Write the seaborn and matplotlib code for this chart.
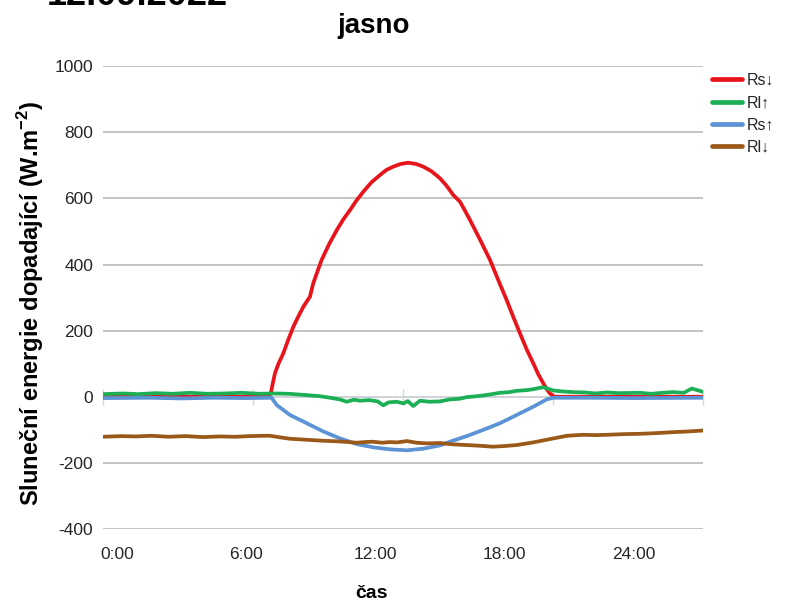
import numpy as np
import pandas as pd
import matplotlib
matplotlib.use("Agg")
import matplotlib.pyplot as plt
from matplotlib.lines import Line2D
import seaborn as sns

# ---------------- data (hours, W.m-2) ----------------
rs_down_t = [-0.64, 2.0, 5.0, 7.0, 7.14, 7.25, 7.34, 7.5, 7.72, 7.95, 8.19, 8.42, 8.65, 8.85, 8.96,
             9.11, 9.3, 9.50, 9.85, 10.2, 10.5, 10.82, 11.12, 11.43, 11.8, 12.21, 12.5, 12.82, 13.15,
             13.52, 13.9, 14.22, 14.6, 14.99, 15.3, 15.61, 15.92, 16.15, 16.38, 16.85, 17.31, 17.7,
             18.08, 18.4, 18.7, 19.0, 19.32, 19.55, 19.78, 19.95, 20.09, 20.3, 23.0, 27.19]
rs_down_v = [0, 0, 0, 0, 10, 45, 72, 100, 131, 172, 212, 243, 272, 292, 303,
             343, 378, 414, 462, 504, 536, 565, 594, 620, 648, 671, 686, 696, 704,
             708, 704, 696, 682, 661, 638, 610, 590, 563, 535, 475, 414, 352,
             293, 240, 192, 145, 101, 68, 41, 22, 10, 0, 0, 0]

rl_up_t = [-0.64, 0.3, 1.0, 1.8, 2.6, 3.4, 4.2, 5.0, 5.8, 6.6, 7.3, 8.0, 8.6, 9.4, 9.9, 10.35,
           10.66, 11.0, 11.28, 11.7, 12.1, 12.36, 12.6, 12.98, 13.3, 13.5, 13.75, 14.06, 14.5,
           14.99, 15.45, 15.9, 16.23, 16.6, 17.0, 17.4, 17.77, 18.2, 18.55, 19.0, 19.32, 19.78,
           20.25, 20.7, 21.17, 21.7, 22.2, 22.72, 23.3, 24.27, 24.8, 25.3, 25.8, 26.3, 26.67, 27.19]
rl_up_v = [8, 10, 8, 11, 9, 12, 9, 10, 12, 9, 10, 9, 6, 2, -3, -8,
           -15, -9, -12, -10, -14, -26, -17, -15, -20, -13, -28, -12, -15,
           -14, -8, -6, -1, 1, 4, 8, 12, 14, 18, 20, 23, 29,
           19, 16, 14, 13, 10, 13, 11, 12, 9, 12, 14, 12, 25, 15]

rs_up_t = [-0.64, 1.5, 3.0, 4.5, 6.0, 7.18, 7.42, 8.03, 8.81, 9.58, 10.35, 11.13, 11.9, 12.67,
           13.45, 14.22, 14.99, 15.45, 16.23, 17.0, 17.77, 18.55, 19.32, 19.94, 20.25, 22.0,
           24.0, 27.19]
rs_up_v = [-4, -3, -5, -3, -4, -3, -25, -55, -80, -105, -126, -143, -153, -159,
           -162, -157, -147, -136, -119, -100, -80, -55, -30, -8, -3, -3,
           -4, -3]

rl_down_t = [-0.64, 0.2, 0.9, 1.6, 2.4, 3.2, 4.0, 4.79, 5.5, 6.18, 6.8, 7.11, 7.6, 8.03, 8.8,
             9.56, 10.3, 11.14, 11.5, 11.88, 12.3, 12.67, 13.0, 13.46, 13.9, 14.39, 14.99, 15.6,
             16.23, 16.8, 17.44, 18.0, 18.55, 19.32, 20.09, 20.88, 21.62, 22.2, 22.73, 23.5,
             24.27, 25.0, 25.8, 26.5, 27.19]
rl_down_v = [-121, -119, -120, -118, -121, -119, -122, -120, -121, -119, -118, -118, -123, -127, -130,
             -133, -135, -139, -137, -136, -139, -137, -138, -134, -139, -141, -140, -144,
             -146, -148, -151, -149, -146, -138, -128, -118, -115, -116, -115, -113,
             -112, -110, -107, -105, -102]

series_names = ["Rs↓", "Rl↑", "Rs↑", "Rl↓"]
series_colors = ["#e8141b", "#1caf55", "#5b93d4", "#9a5819"]
tick_hours = [0, 6, 12, 18, 24]
tick_labels = ["0:00", "6:00", "12:00", "18:00", "24:00"]
y_ticks = [-400, -200, 0, 200, 400, 600, 800, 1000]

frames = []
for name, t, v in zip(series_names,
                      [rs_down_t, rl_up_t, rs_up_t, rl_down_t],
                      [rs_down_v, rl_up_v, rs_up_v, rl_down_v]):
    frames.append(pd.DataFrame({"cas": t, "val": v, "serie": name}))
df = pd.concat(frames, ignore_index=True)

# ---------------- style ----------------
sns.set_theme(style="white")
plt.rcParams["font.family"] = ["Liberation Sans", "DejaVu Sans"]
plt.rcParams["mathtext.fontset"] = "custom"
plt.rcParams["mathtext.rm"] = "Liberation Sans"
plt.rcParams["mathtext.bf"] = "Liberation Sans:bold"

fig = plt.figure(figsize=(7.85, 6.01), dpi=100)
ax = fig.add_axes([103 / 785, 1 - 529 / 601, 600 / 785, (529 - 66.2) / 601])

palette = dict(zip(series_names, series_colors))
sns.lineplot(data=df, x="cas", y="val", hue="serie", hue_order=series_names,
             palette=palette, estimator=None, sort=False, linewidth=2.7,
             legend=False, ax=ax, zorder=3)

xmin, xmax = -0.64, 27.19
ax.set_xlim(xmin, xmax)
ax.set_ylim(-400, 1000)
ax.set_yticks(y_ticks)
ax.set_yticklabels([str(v) for v in y_ticks])
ax.set_xticks(tick_hours)
ax.set_xticklabels(tick_labels)
ax.tick_params(axis="both", length=0, labelsize=12.5, colors="#262626")
ax.tick_params(axis="y", pad=7)
ax.tick_params(axis="x", pad=13)
for s in ax.spines.values():
    s.set_visible(False)
ax.yaxis.grid(True, color="#b4b4b4", linewidth=1.1)
ax.xaxis.grid(False)
ax.set_axisbelow(True)
ax.axhline(0, color="#d6d8de", linewidth=1.1, zorder=1.5)
ax.set_xlabel("")
ax.set_ylabel("")

# category tick marks across the zero line
sec = ax.secondary_xaxis(400 / 1400)
sec.set_xticks(np.linspace(xmin, xmax, 5))
sec.tick_params(axis="x", direction="inout", length=11, width=1, color="#d6d8de",
                labelbottom=False, labeltop=False)
sec.spines["bottom"].set_visible(False)
sec.spines["top"].set_visible(False)

# texts
fig.text(47 / 785, 1 - 5 / 601, "12.09.2022", fontsize=26, fontweight="bold",
         ha="left", va="baseline", color="black")
fig.text(374 / 785, 1 - 33 / 601, "jasno", fontsize=20, fontweight="bold",
         ha="center", va="baseline", color="black")
fig.text(371 / 785, 1 - 598 / 601, "čas", fontsize=14, fontweight="bold",
         ha="center", va="baseline", color="black")
fig.text(31 / 785, 1 - 303 / 601, r"Sluneční energie dopadající (W.m$^{\mathbf{-2}}$)",
         fontsize=17, fontweight="bold", rotation=90, ha="center", va="center",
         color="black")

handles = [Line2D([0], [0], color=c, linewidth=3.4) for c in series_colors]
fig.legend(handles, series_names, loc="upper left", bbox_to_anchor=(712 / 785, 1 - 73 / 601),
           frameon=False, fontsize=11.5, handlelength=1.9, handletextpad=0.3,
           labelspacing=0.45, borderpad=0, borderaxespad=0)

fig.savefig("out.png", dpi=100)
